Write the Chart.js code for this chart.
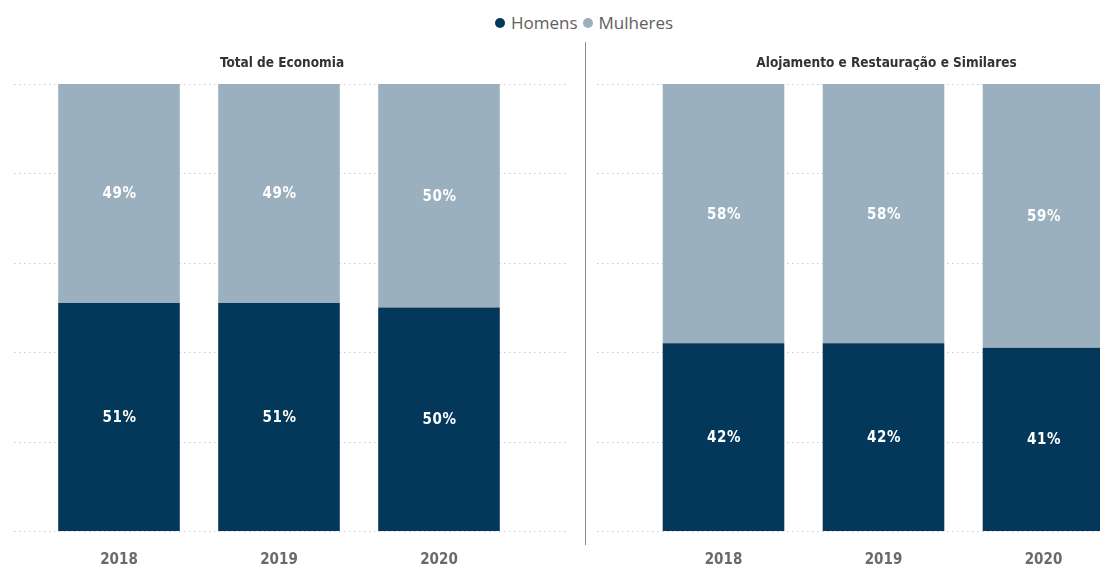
<!DOCTYPE html>
<html><head><meta charset="utf-8">
<script src="https://cdn.jsdelivr.net/npm/chart.js@4/dist/chart.umd.min.js"></script>
<style>
html,body{margin:0;padding:0;width:1100px;height:568px;overflow:hidden;background:#fff;position:relative;}
#c1{position:absolute;left:0;top:0;}
#c2{position:absolute;left:585px;top:0;}
#divider{position:absolute;left:585px;top:42px;width:1px;height:503px;background:#8c8c8c;}
#legend{position:absolute;top:10px;left:495px;font-family:'Open Sans',sans-serif;font-size:17px;color:#605e5c;white-space:nowrap;line-height:26px;}
#legend span.dot{display:inline-block;width:10px;height:10px;border-radius:50%;vertical-align:middle;margin-right:6px;position:relative;top:-1px;}
#legend span.item{margin-right:5px;}
</style>
</head><body>
<div id="legend"><span class="item"><span class="dot" style="background:#03385a"></span>Homens</span><span class="item"><span class="dot" style="background:#9ab0be"></span>Mulheres</span></div>
<canvas id="c1" width="585" height="568"></canvas>
<canvas id="c2" width="560" height="568"></canvas>
<div id="divider"></div>
<script>
const categories = ['2018', '2019', '2020'];
const homensTotal = [51, 51, 50];
const mulheresTotal = [49, 49, 50];
const homensAloj = [42, 42, 41];
const mulheresAloj = [58, 58, 59];
const yTicks = [0, 20, 40, 60, 80, 100];
const titleTotal = 'Total de Economia';
const titleAloj = 'Alojamento e Restauração e Similares';

const COND = "'DejaVu Sans Condensed', Roboto, sans-serif";
const DARK = '#03385a';
const LIGHT = '#9ab0be';

function makeChart(id, title, homens, mulheres, padL, padR, gridX0, gridX1) {
  const panelPlugin = {
    id: 'panel',
    beforeDatasetsDraw(chart) {
      const ctx = chart.ctx, y = chart.scales.y;
      ctx.save();
      ctx.strokeStyle = '#c8c8c8';
      ctx.lineWidth = 1;
      ctx.setLineDash([1.5, 3.5]);
      yTicks.forEach(v => {
        const py = Math.round(y.getPixelForValue(v)) + 0.5;
        ctx.beginPath(); ctx.moveTo(gridX0, py); ctx.lineTo(gridX1, py); ctx.stroke();
      });
      ctx.restore();
    },
    afterDatasetsDraw(chart) {
      const ctx = chart.ctx, a = chart.chartArea;
      ctx.save();
      ctx.fillStyle = '#fff';
      ctx.font = "bold 15px " + COND;
      if ('letterSpacing' in ctx) ctx.letterSpacing = '0.6px';
      ctx.textAlign = 'center';
      ctx.textBaseline = 'middle';
      chart.data.datasets.forEach((ds, i) => {
        chart.getDatasetMeta(i).data.forEach((bar, j) => {
          ctx.fillText(ds.data[j] + '%', bar.x + 0.5, (bar.y + bar.base) / 2 + 1);
        });
      });
      if ('letterSpacing' in ctx) ctx.letterSpacing = '0px';
      ctx.fillStyle = '#333';
      ctx.font = "bold 13.5px " + COND;
      ctx.fillText(title, (a.left + a.right) / 2 + 3, 63);
      ctx.restore();
    }
  };
  return new Chart(document.getElementById(id), {
    type: 'bar',
    data: {
      labels: categories,
      datasets: [
        { label: 'Homens', data: homens, backgroundColor: DARK, borderWidth: 0, categoryPercentage: 0.76, barPercentage: 1 },
        { label: 'Mulheres', data: mulheres, backgroundColor: LIGHT, borderWidth: 0, categoryPercentage: 0.76, barPercentage: 1 }
      ]
    },
    options: {
      responsive: false,
      animation: false,
      layout: { padding: { top: 84, left: padL, right: padR, bottom: 0 } },
      plugins: { legend: { display: false }, title: { display: false }, tooltip: { enabled: false } },
      scales: {
        x: {
          stacked: true,
          grid: { display: false, drawTicks: false },
          border: { display: false },
          ticks: { color: '#6a6a6a', font: { family: COND, size: 15, weight: 'bold' }, padding: 20 },
          afterFit(s) { s.height = 37; }
        },
        y: { stacked: true, display: false, min: 0, max: 100 }
      }
    },
    plugins: [panelPlugin]
  });
}

makeChart('c1', titleTotal, homensTotal, mulheresTotal, 39, 585 - 519, 14, 568);
makeChart('c2', titleAloj, homensAloj, mulheresAloj, 58.5, 560 - 538.5, 12, 560);
</script>
</body></html>
